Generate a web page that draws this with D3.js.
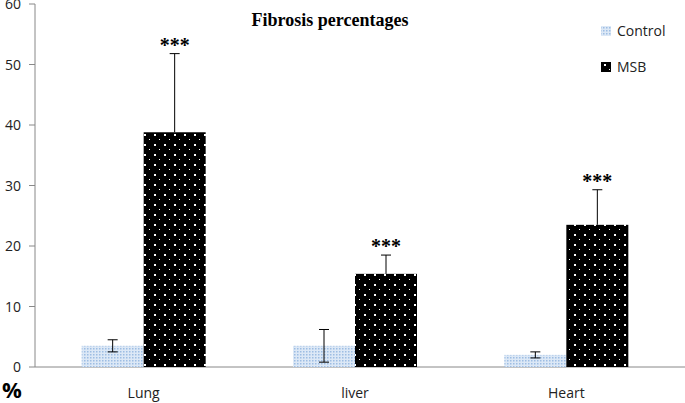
<!DOCTYPE html>
<html><head><meta charset="utf-8">
<script src="https://cdn.jsdelivr.net/npm/d3@7"></script>
<style>body{margin:0;background:#fff}svg{font-family:"Open Sans",sans-serif}</style>
</head><body>
<svg id="c" width="685" height="403"></svg>
<script>
const categories = ["Lung", "liver", "Heart"];
const series = ["Control", "MSB"];
const controlValues = [3.5, 3.5, 2.0];
const controlErrors = [1.0, 2.7, 0.5];
const msbValues = [38.8, 15.4, 23.5];
const msbErrors = [13.0, 3.1, 5.8];
const yTicks = [0, 10, 20, 30, 40, 50, 60];

const svg = d3.select('#c');
const defs = svg.append('defs');
// light blue fine dots for Control
const p1 = defs.append('pattern').attr('id', 'pc').attr('width', 3).attr('height', 3).attr('patternUnits', 'userSpaceOnUse');
p1.append('rect').attr('width', 3).attr('height', 3).attr('fill', '#dce8f6');
p1.append('rect').attr('width', 1.5).attr('height', 1.5).attr('fill', '#9dbde3');
// black with white dots for MSB
const p2 = defs.append('pattern').attr('id', 'pm').attr('width', 10).attr('height', 10).attr('patternUnits', 'userSpaceOnUse');
p2.append('rect').attr('width', 10).attr('height', 10).attr('fill', '#000');
p2.append('rect').attr('x', 4).attr('y', 4).attr('width', 2).attr('height', 2).attr('fill', '#fff');
p2.append('rect').attr('x', 9).attr('y', 9).attr('width', 2).attr('height', 2).attr('fill', '#fff');

const y = d3.scaleLinear().domain([0, 60]).range([367, 4]);
const x0 = d3.scaleBand().domain(categories).range([38, 672]);
const bw = x0.bandwidth();
const x1 = d3.scaleBand().domain(series).range([bw / 2 - 62, bw / 2 + 62]);

// axes
svg.append('line').attr('x1', 35).attr('x2', 35).attr('y1', y(60)).attr('y2', y(0)).attr('stroke', '#888');
svg.append('line').attr('x1', 35).attr('x2', 685).attr('y1', y(0)).attr('y2', y(0)).attr('stroke', '#888');
yTicks.forEach(t => {
    svg.append('line').attr('x1', 29).attr('x2', 35).attr('y1', y(t)).attr('y2', y(t)).attr('stroke', '#888');
    svg.append('text').attr('x', 21).attr('y', y(t) + 5).attr('text-anchor', 'end')
        .attr('font-size', 14).attr('fill', '#222').text(t);
});
svg.append('text').attr('x', 2).attr('y', 398).attr('font-size', 22).attr('font-weight', 'bold').text('%');

categories.forEach((c, i) => {
    svg.append('text').attr('x', x0(c) + bw / 2).attr('y', 398).attr('text-anchor', 'middle')
        .attr('font-size', 14).attr('fill', '#222').text(c);
    const rows = [
        {s: 'Control', v: controlValues[i], e: controlErrors[i], f: 'url(#pc)'},
        {s: 'MSB', v: msbValues[i], e: msbErrors[i], f: 'url(#pm)'}
    ];
    rows.forEach(r => {
        const bx = x0(c) + x1(r.s);
        svg.append('rect').attr('x', bx).attr('y', y(r.v)).attr('width', x1.bandwidth())
            .attr('height', y(0) - y(r.v)).attr('fill', r.f);
        const cx = bx + x1.bandwidth() / 2;
        const g = svg.append('g').attr('stroke', '#000').attr('stroke-width', 1);
        g.append('line').attr('x1', cx).attr('x2', cx).attr('y1', y(r.v + r.e)).attr('y2', r.s === 'MSB' ? y(r.v) : y(r.v - r.e));
        g.append('line').attr('x1', cx - 5).attr('x2', cx + 5).attr('y1', y(r.v + r.e)).attr('y2', y(r.v + r.e));
        if (r.s === 'Control')
            g.append('line').attr('x1', cx - 5).attr('x2', cx + 5).attr('y1', y(r.v - r.e)).attr('y2', y(r.v - r.e));
        if (r.s === 'MSB')
            svg.append('text').attr('x', cx).attr('y', y(r.v + r.e) - 2).attr('text-anchor', 'middle')
                .attr('font-family', 'Liberation Serif').attr('font-size', 20).attr('font-weight', 'bold').text('***');
    });
});

svg.append('text').attr('x', 330).attr('y', 26).attr('text-anchor', 'middle')
    .attr('font-family', 'Liberation Serif').attr('font-size', 18).attr('font-weight', 'bold').text('Fibrosis percentages');

// legend
[['Control', 'url(#pc)', 31], ['MSB', 'url(#pm)', 67]].forEach(([n, f, ly]) => {
    svg.append('rect').attr('x', 601).attr('y', ly - 5).attr('width', 10).attr('height', 10).attr('fill', f);
    svg.append('text').attr('x', 617).attr('y', ly + 5).attr('font-size', 14).attr('fill', '#222').text(n);
});
</script>
</body></html>
